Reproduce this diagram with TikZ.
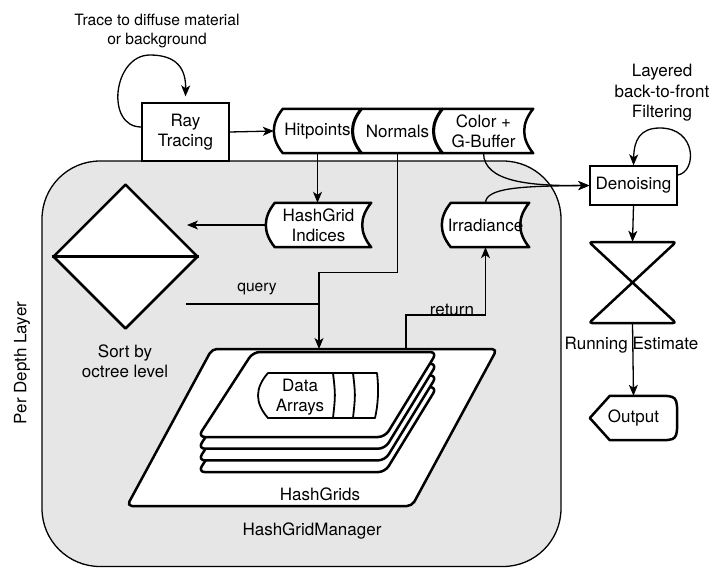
\documentclass[tikz,border=0pt]{standalone}
\usepackage{fontspec}
\setmainfont{TeX Gyre Heros}
\usetikzlibrary{arrows.meta,calc,shapes.geometric}
\definecolor{gfill}{HTML}{E6E6E6}
\pgfdeclarelayer{back}
\pgfdeclarelayer{shp}
\pgfsetlayers{back,shp,main}
\newcommand\dstore[2]{%
  \draw[boldln,fill=white] ($(#1.north west)+(#2,0)$) -- (#1.north east)
    .. controls ($(#1.north east)!0.333!(#1.south east)+(-1.333*#2,0)$) and ($(#1.north east)!0.667!(#1.south east)+(-1.333*#2,0)$) .. (#1.south east)
    -- ($(#1.south west)+(#2,0)$)
    .. controls ($(#1.north west)!0.667!(#1.south west)+(-0.333*#2,0)$) and ($(#1.north west)!0.333!(#1.south west)+(-0.333*#2,0)$) .. cycle;}
\begin{document}
\begin{tikzpicture}[x=1pt,y=-1pt,
  font=\fontsize{17}{20.4}\selectfont,
  thinln/.style={line width=1.3pt},
  boldln/.style={line width=2.5pt, line join=round},
  arr/.style={thinln, -{Stealth[length=11pt,width=9pt,inset=3pt]}},
  ph/.style={draw=none, inner sep=0pt, align=center},
  lbl/.style={inner sep=0pt, align=center},
  elbl/.style={inner sep=0pt, align=center, font=\fontsize{15.6}{18.8}\selectfont}]
\useasboundingbox (0,0) rectangle (714,568);

\begin{pgfonlayer}{back}
\draw[thinln, fill=gfill, rounded corners=58pt] (42,161) rectangle (561,566.5);
\end{pgfonlayer}

% nodes
\node[draw, thinln, fill=white, minimum width=87pt, minimum height=58pt, align=center] (ray) at (185.5,132) {Ray\\Tracing};
\node[ph, minimum width=87pt, minimum height=44pt] (hit) at (317.5,131) {Hitpoints};
\node[ph, minimum width=89pt, minimum height=44pt] (nor) at (397.5,131) {Normals};
\node[ph, minimum width=99pt, minimum height=44pt] (col) at (483.5,131) {Color +\\G-Buffer};
\node[ph, minimum width=105pt, minimum height=44pt] (hgi) at (318.5,225) {HashGrid\\Indices};
\node[ph, minimum width=87pt, minimum height=44pt] (irr) at (485.5,225) {Irradiance};
\node[draw, thinln, fill=white, minimum width=87pt, minimum height=39pt] (den) at (633.5,185.5) {Denoising};
\node[ph, minimum width=87pt, minimum height=81pt] (hgl) at (632.5,282.5) {};
\node[ph, minimum width=87pt, minimum height=44pt] (out) at (633.5,418) {Output};
\node[lbl] (da) at (300,397) {Data\\Arrays};
\node[lbl] (hgt) at (320,494) {HashGrids};
\node[lbl] (hgm) at (312,531) {HashGridManager};
\node[lbl] (sortl) at (125,361) {Sort by\\octree level};
\node[lbl] (re) at (631.5,345) {Running Estimate};
\node[elbl] (tr) at (157,31) {Trace to diffuse material\\or background};
\node[lbl] (lf) at (662,93) {Layered\\back-to-front\\Filtering};
\node[lbl, rotate=90] (pdl) at (22,363) {Per Depth Layer};

\coordinate (qin) at (319,349);
\coordinate (rout) at (406,349);
\coordinate (qsrc) at (186,304);
\coordinate (sortin) at (187,225);

\begin{pgfonlayer}{shp}
\dstore{hit}{9}
\dstore{nor}{9}
\dstore{col}{9}
\dstore{hgi}{9}
\dstore{irr}{9}
\node[diamond, draw, boldln, fill=white, minimum width=145pt, minimum height=145pt, inner sep=0pt] (sort) at (125.5,256.5) {};
\draw[boldln] (sort.west) -- (sort.east);
% HashGrids parallelogram
\draw[boldln, fill=white, rounded corners=5pt] (127,506) -- (212,349) -- (497,349) -- (412,506) -- cycle;
\foreach \k in {3,2,1,0}{
  \draw[boldln, fill=white, rounded corners=7pt, shift={(0,\k*11.7)}] (253,352) -- (437,352) -- (385,437) -- (198,437) -- cycle;
}
% Data arrays
\draw[line width=1.8pt, fill=white, line join=round] (268,373) -- (377,373) .. controls (379,390) and (378,405) .. (375,418) -- (268,418) .. controls (254.7,403) and (254.7,388) .. (268,373) -- cycle;
\draw[line width=1.8pt] (333,373) .. controls (335.5,395) .. (333,418);
\draw[line width=1.8pt] (353,373) .. controls (355.5,395) .. (353,418);
% hourglass
\draw[boldln, fill=white, rounded corners=3pt] (589,242) -- (676,242) -- (589,323) -- (676,323) -- cycle;
% output
\draw[boldln, fill=white] (out.west) -- ($(out.north west)+(20,0)$) -- ($(out.north east)+(-20,0)$) .. controls (out.north east) .. (out.east) .. controls (out.south east) .. ($(out.south east)+(-20,0)$) -- ($(out.south west)+(20,0)$) -- cycle;
\end{pgfonlayer}

% connectors
\draw[arr] (ray.east) -- (hit.west);
\draw[arr] (hit.south) -- (hit.south |- hgi.north);
\draw[arr] (hgi.west) -- (sortin);
\draw[arr] (nor.south) -- ++(0,119) -| (qin);
\draw[thinln] (qsrc) -- (qsrc -| qin);
\node[elbl] at (257,289) {query};
\draw[arr] (rout) -- ++(0,-34) -| (irr.south);
\node[lbl, anchor=base] at (452,315) {return};
\draw[arr] (col.south) .. controls (484,182) and (530,186) .. (den.west);
\draw[arr] (irr.north) .. controls (486,188) and (520,186) .. (den.west);
\draw[arr] (den.south) -- (hgl.north);
\draw[arr] (hgl.south) -- (out.north);
\draw[arr] ([yshift=5pt]ray.west) .. controls (105,127) and (113,55) .. (150,55) .. controls (178,55) and (186,70) .. ([yshift=6pt]ray.north);
\draw[arr] ([yshift=10.5pt]den.east) .. controls (697,172) and (697,128) .. (660,128) .. controls (640,128) and (634,140) .. (den.north);
\end{tikzpicture}
\end{document}
